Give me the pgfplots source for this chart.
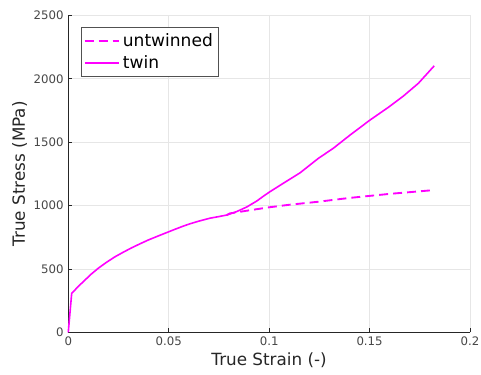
\documentclass[border=0pt]{standalone}
\usepackage{pgfplots}
\pgfplotsset{compat=1.18}
\usepackage{fontspec}
\setmainfont{DejaVu Sans}
\definecolor{axgray}{RGB}{38,38,38}
\definecolor{gridgray}{RGB}{230,230,230}
\definecolor{mag}{RGB}{255,0,255}
\begin{document}
\begin{tikzpicture}
\begin{axis}[
  scale only axis,
  width=301.3pt, height=237.75pt,
  xmin=0, xmax=0.2, ymin=0, ymax=2500,
  xtick={0,0.05,0.1,0.15,0.2},
  ytick={0,500,1000,1500,2000,2500},
  xticklabels={0,0.05,0.1,0.15,0.2},
  axis lines=left,
  axis line style={axgray, line width=0.5pt, -},
  tick style={axgray, line width=0.5pt},
  tick align=inside,
  major tick length=3pt,
  grid=major,
  grid style={gridgray, line width=0.5pt},
  ticklabel style={font=\fontsize{8.8pt}{10pt}\selectfont, text=axgray!85!white},
  /pgf/number format/assume math mode=true,
  scaled x ticks=false,
  x tick label style={/pgf/number format/fixed},
  y tick label style={/pgf/number format/fixed, /pgf/number format/1000 sep={}},
  xlabel={True Strain (-)},
  ylabel={True Stress (MPa)},
  label style={font=\fontsize{12.6pt}{14pt}\selectfont, text=axgray},
  xlabel style={yshift=2pt},
  ylabel style={yshift=-2pt},
  legend style={at={(rel axis cs:0,1)}, anchor=north west, xshift=9.3pt, yshift=-9pt,
    draw=axgray!80!white, line width=0.5pt, font=\fontsize{12.8pt}{15pt}\selectfont,
    inner xsep=2pt, inner ysep=2.5pt, row sep=1pt, cells={anchor=west}},
  legend image code/.code={\draw[#1] (0pt,0pt) -- (26pt,0pt);},
  clip=false,
]
\addplot[mag, line width=1.4pt, dash pattern=on 6.7pt off 3.8pt] coordinates {
(0.0789,925) (0.0805,938) (0.09,962) (0.1,986) (0.11,1006) (0.1245,1030) (0.14,1060) (0.16,1092) (0.1822,1122)
};
\addlegendentry{untwinned}
\addplot[mag, line width=1.2pt, line join=round] coordinates {
(0,0) (0.0017,307) (0.005,362) (0.0083,412) (0.0115,460) (0.0149,505) (0.019,552) (0.0233,596) (0.0275,633) (0.0316,667) (0.0357,698) (0.0398,728) (0.044,755) (0.0481,781) (0.0527,810) (0.0573,838) (0.0606,856) (0.065,877) (0.0705,900) (0.075,913) (0.0789,925) (0.0838,952) (0.0888,988) (0.0938,1035) (0.097,1072) (0.1004,1109) (0.107,1175) (0.1154,1258) (0.1245,1372) (0.1319,1451) (0.1403,1556) (0.1502,1674) (0.1593,1774) (0.1668,1863) (0.1743,1964) (0.1822,2102)
};
\addlegendentry{twin}
\end{axis}
\pgfresetboundingbox
\path[use as bounding box] ([xshift=-51.2pt,yshift=-31.3pt]current axis.south west) rectangle ([xshift=8.25pt,yshift=11.5pt]current axis.north east);
\end{tikzpicture}
\end{document}
